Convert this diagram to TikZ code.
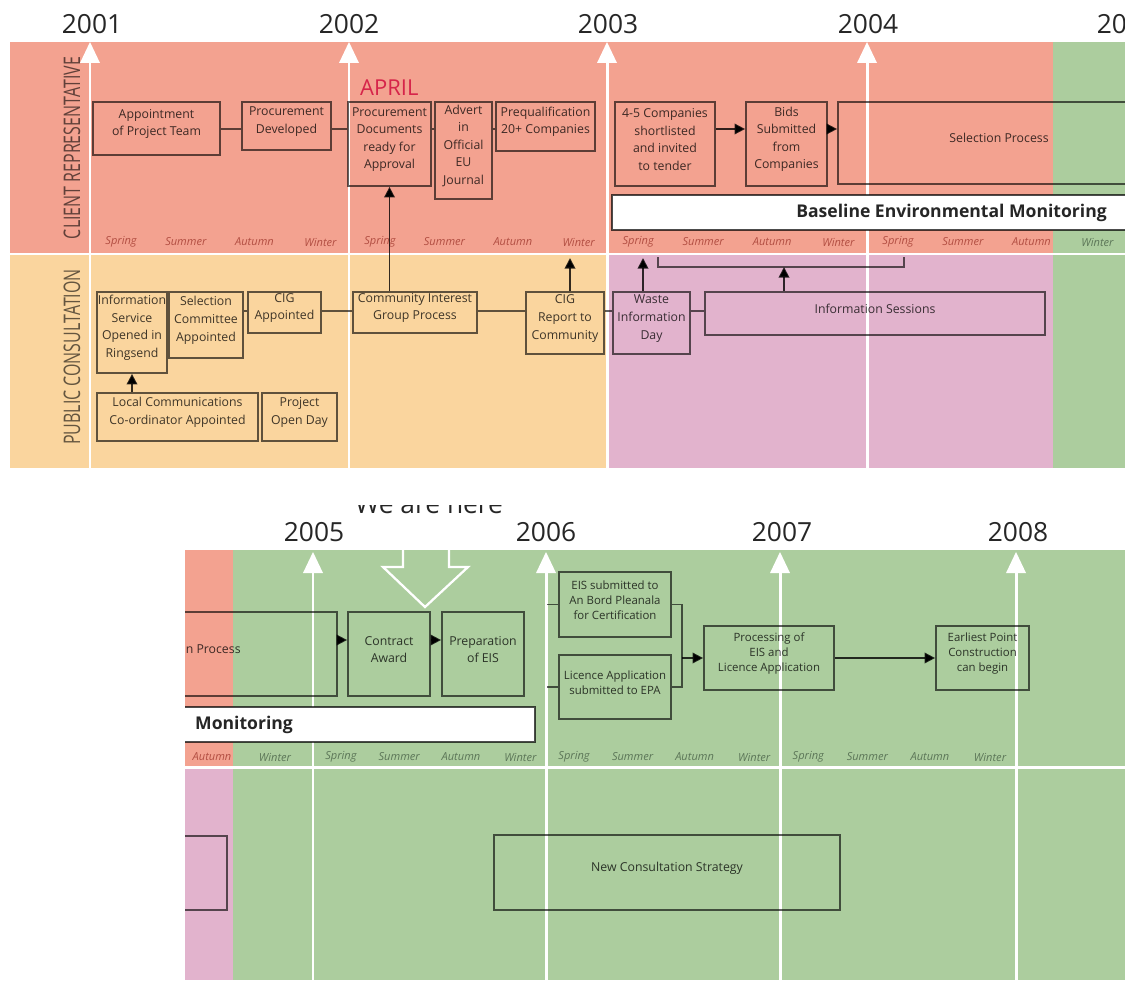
\documentclass[tikz,border=0pt]{standalone}
\usepackage{fontspec}
\setmainfont{Open Sans}
\usetikzlibrary{positioning,fit,arrows.meta}

\definecolor{salmon}{RGB}{243,162,144}
\definecolor{peach}{RGB}{250,213,158}
\definecolor{mauve}{RGB}{226,179,205}
\definecolor{sage}{RGB}{172,205,158}
\definecolor{yeargray}{RGB}{38,38,38}
\definecolor{aprilred}{RGB}{214,36,74}
\definecolor{seasred}{RGB}{178,78,66}
\definecolor{seasgreen}{RGB}{92,118,88}

% white year line with its arrow head: x, top, bottom
\newcommand{\yearmark}[3]{%
  \draw[yearline] (#1,#2+18) -- (#1,#3);
  \fill[white] (#1-10,#2+21) -- (#1,#2) -- (#1+10,#2+21) -- cycle;}
% four seasons of one year: name, x, year width, y, colour, winter colour
\newcommand{\seasonrow}[6]{%
  \node[season,text=#5] (#1sp) at (#2+0.12*#3,#4) {Spring};
  \node[season,text=#5] (#1su) at (#2+0.37*#3,#4) {Summer};
  \node[season,text=#5] (#1au) at (#2+0.635*#3,#4) {Autumn};
  \node[season,text=#6] (#1wi) at (#2+0.89*#3,#4) {Winter};}

\begin{document}
\begin{tikzpicture}[x=0.02cm, y=-0.02cm,
  box/.style={draw=black, draw opacity=.62, line width=1pt, inner sep=0pt,
    align=center, text=black, text opacity=.75, font=\fontsize{7}{10}\selectfont},
  gbox/.style={box, font=\fontsize{6.5}{8.5}\selectfont},
  monbox/.style={draw=black, draw opacity=.7, line width=1pt, fill=white, inner sep=0pt},
  montext/.style={font=\fontsize{10}{12}\selectfont\bfseries, text=yeargray},
  link/.style={draw=black, draw opacity=.62, line width=1pt},
  arr/.style={link, draw opacity=.8, -{Triangle[length=6pt,width=6pt]}},
  yearlab/.style={font=\fontsize{15}{18}\selectfont, text=yeargray},
  season/.style={font=\fontsize{6.3}{7}\selectfont\itshape},
  sidelab/.style={font=\fontsize{13}{15}\selectfont, text=black, text opacity=.6, rotate=90},
  yearline/.style={white, line width=1.7pt}]
\useasboundingbox (0,0) rectangle (1125,980);

% upper chart
\fill[salmon] (10,42) rectangle (1053,254);
\fill[sage] (1053,42) rectangle (1125,254);
\fill[peach] (10,254) rectangle (607,468);
\fill[mauve] (607,254) rectangle (1053,468);
\fill[sage] (1053,254) rectangle (1125,468);
\draw[yearline] (10,254) -- (1125,254);
\yearmark{90}{42}{468}
\yearmark{349}{42}{468}
\yearmark{607}{42}{468}
\yearmark{867}{42}{468}
\node[yearlab] (y2001) at (92,24) {2001};
\node[yearlab] (y2002) at (349,24) {2002};
\node[yearlab] (y2003) at (608,24) {2003};
\node[yearlab] (y2004) at (868,24) {2004};
\node[yearlab] (y2005a) at (1127,24) {2005};
\node[sidelab] (clientlab) at (72,148) {\scalebox{0.7}[1]{CLIENT REPRESENTATIVE}};
\node[sidelab] (publiclab) at (72,357) {\scalebox{0.7}[1]{PUBLIC CONSULTATION}};
\seasonrow{t01}{90}{259}{242}{seasred}{seasred}
\seasonrow{t02}{349}{258}{242}{seasred}{seasred}
\seasonrow{t03}{607}{260}{242}{seasred}{seasred}
\seasonrow{t04}{867}{259}{242}{seasred}{seasgreen}

\node[anchor=west, font=\fontsize{12.5}{14}\selectfont, text=aprilred] (april) at (354,88) {APRIL};
\node[box, fit={(93,102) (220,155)}] (appt) {Appointment\\of Project Team};
\node[box, fit={(242,102) (331,150)}] (procdev) {Procurement\\Developed};
\node[box, fit={(348,102) (431,186)}] (procdoc) {Procurement\\Documents\\ready for\\Approval};
\node[box, fit={(435,102) (492,199)}] (advert) {Advert\\in\\Official\\EU\\Journal};
\node[box, fit={(496,102) (595,151)}] (prequal) {Prequalification\\20+ Companies};
\node[box, fit={(615,102) (715,186)}] (short) {4-5 Companies\\shortlisted\\and invited\\to tender};
\node[box, fit={(746,102) (827,186)}] (bids) {Bids\\Submitted\\from\\Companies};
\node[box, fit={(838,102) (1160,184)}] (select) {Selection Process};
\node[monbox, fit={(612,195) (1200,230)}] (monitor) {};
\node[montext, anchor=east] (montxt) at (1113,213) {Baseline Environmental Monitoring};

\node[box, fit={(97,292) (167,373)}] (infoserv) {Information\\Service\\Opened in\\Ringsend};
\node[box, fit={(169,292) (243,358)}] (selcom) {Selection\\Committee\\Appointed};
\node[box, fit={(248,292) (321,333)}] (cigapp) {CIG\\Appointed};
\node[box, fit={(97,393) (258,441)}] (localcc) {Local Communications\\Co-ordinator Appointed};
\node[box, fit={(262,393) (337,441)}] (openday) {Project\\Open Day};
\node[box, fit={(353,292) (477,333)}] (cigproc) {Community Interest\\Group Process};
\node[box, fit={(526,292) (604,354)}] (cigrep) {CIG\\Report to\\Community};
\node[box, fit={(613,292) (690,354)}] (waste) {Waste\\Information\\Day};
\node[box, fit={(705,292) (1045,335)}] (infosess) {Information Sessions};

\coordinate (row1) at (0,129);
\coordinate (row3) at (0,311);
\draw[link] (appt.east |- row1) -- (procdev.west |- row1);
\draw[link] (procdev.east |- row1) -- (procdoc.west |- row1);
\draw[link] (procdoc.east |- row1) -- (advert.west |- row1);
\draw[link] (advert.east |- row1) -- (prequal.west |- row1);
\draw[arr] (short.east |- row1) -- (bids.west |- row1);
\draw[arr] (bids.east |- row1) -- (select.west |- row1);
\draw[arr] (cigproc.north -| procdoc.south) -- (procdoc.south);
\draw[link] (selcom.east |- row3) -- (cigapp.west |- row3);
\draw[link] (cigapp.east |- row3) -- (cigproc.west |- row3);
\draw[link] (cigproc.east |- row3) -- (cigrep.west |- row3);
\draw[link] (cigrep.east |- row3) -- (waste.west |- row3);
\draw[link] (waste.east |- row3) -- (infosess.west |- row3);
\draw[arr] (localcc.north -| infoserv.south) -- (infoserv.south);
\coordinate (repup) at (570,258);
\coordinate (wasteup) at (643,258);
\coordinate (brk) at (784,267);
\draw[arr] (cigrep.north -| repup) -- (repup);
\draw[arr] (waste.north -| wasteup) -- (wasteup);
\draw[link] (658,257) -- (658,267) -- (904,267) -- (904,257);
\draw[arr] (infosess.north -| brk) -- (brk);

% lower chart
\begin{scope}
\clip (300,505) rectangle (560,530);
\node[yearlab, anchor=base] (here) at (429,513) {We are here};
\end{scope}
\fill[salmon] (185,550) rectangle (233,767);
\fill[sage] (233,550) rectangle (1125,767);
\fill[mauve] (185,767) rectangle (233,980);
\fill[sage] (233,767) rectangle (1125,980);
\draw[yearline] (185,767) -- (1125,767);
\yearmark{313}{552}{980}
\yearmark{546}{552}{980}
\yearmark{780}{552}{980}
\yearmark{1016}{552}{980}
\draw[white, line width=1.3pt] (403,550) -- (403,567) -- (383,567) -- (425,607)
  -- (468,567) -- (449,567) -- (449,550);
\node[yearlab] (y2005) at (314,532) {2005};
\node[yearlab] (y2006) at (546,532) {2006};
\node[yearlab] (y2007) at (782,532) {2007};
\node[yearlab] (y2008) at (1018,532) {2008};
\node[season, text=seasred] (b04au) at (212,757) {Autumn};
\node[season, text=seasgreen] (b04wi) at (275,757) {Winter};
\seasonrow{b05}{313}{233}{757}{seasgreen}{seasgreen}
\seasonrow{b06}{546}{234}{757}{seasgreen}{seasgreen}
\seasonrow{b07}{780}{236}{757}{seasgreen}{seasgreen}

\begin{scope}
\clip (185,550) rectangle (1125,980);
\node[box, fit={(45,612) (337,696)}] (select2) {Selection Process};
\node[monbox, fit={(-300,707) (535,742)}] (monitor2) {};
\node[box, fit={(-100,836) (227,910)}] (infosess2) {Information Sessions};
\end{scope}
\node[montext, anchor=west] (montxt2) at (189,725) {Monitoring};
\node[box, fit={(348,612) (430,696)}] (award) {Contract\\Award};
\node[box, fit={(442,612) (524,696)}] (prepeis) {Preparation\\of EIS};
\node[gbox, fit={(559,572) (671,637)}] (eissub) {EIS submitted to\\An Bord Pleanala\\for Certification};
\node[gbox, fit={(559,655) (671,719)}] (licence) {Licence Application\\submitted to EPA};
\node[gbox, fit={(704,626) (834,690)}] (process) {Processing of\\EIS and\\Licence Application};
\node[gbox, fit={(936,626) (1029,690)}] (earliest) {Earliest Point\\Construction\\can begin};
\node[box, fit={(494,835) (840,910)}] (newcons) {New Consultation Strategy};

\coordinate (row4) at (0,640);
\coordinate (y06) at (547,0);
\coordinate (join) at (682,0);
\draw[arr] (select2.east |- row4) -- (award.west |- row4);
\draw[arr] (award.east |- row4) -- (prepeis.west |- row4);
\draw[link] (eissub.west -| y06) -- (eissub.west);
\draw[link] (licence.west -| y06) -- (licence.west);
\draw[link] (eissub.east) -- (eissub.east -| join) -- (licence.east -| join) -- (licence.east);
\draw[arr] (process.west -| join) -- (process.west);
\draw[arr] (process.east) -- (earliest.west);
\end{tikzpicture}
\end{document}
